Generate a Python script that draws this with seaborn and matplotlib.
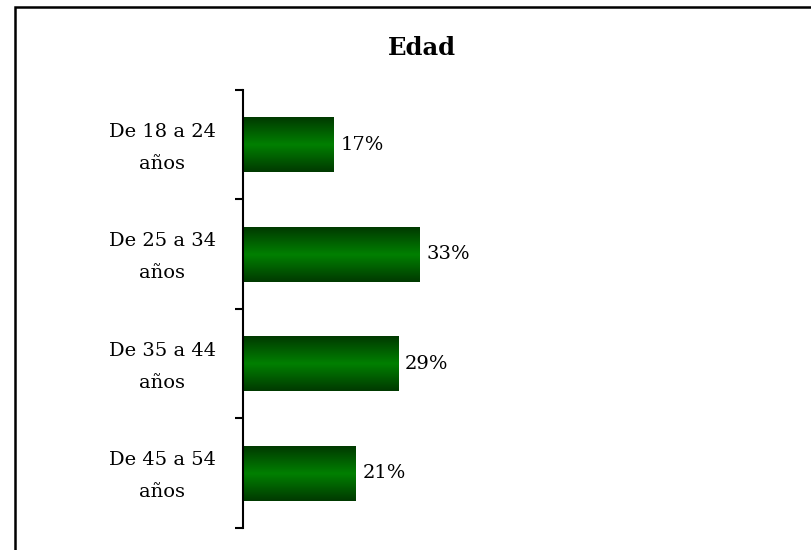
import numpy as np
import pandas as pd
import seaborn as sns
import matplotlib.pyplot as plt
from matplotlib.colors import LinearSegmentedColormap
from matplotlib.patches import Rectangle
from matplotlib.transforms import ScaledTranslation

# data
categorias = ["De 18 a 24\naños", "De 25 a 34\naños", "De 35 a 44\naños", "De 45 a 54\naños"]
porcentajes = [17, 33, 29, 21]
etiquetas = ["17%", "33%", "29%", "21%"]

df = pd.DataFrame({"edad": categorias, "pct": porcentajes})

sns.set_style("white")
plt.rcParams["font.family"] = ["DejaVu Serif"]

fig = plt.figure(figsize=(8.11, 5.5), dpi=100)
ax = fig.add_axes([0.2996, 0.04, 0.66, 0.7964])

sns.barplot(data=df, x="pct", y="edad", orient="h", width=0.5,
            color="#007a00", ax=ax)

# gradient fill for each bar (dark edges, bright middle)
cmap = LinearSegmentedColormap.from_list("verde", ["#003a00", "#008000", "#003a00"])
grad = np.linspace(0, 1, 64).reshape(-1, 1)
for p in ax.patches:
    x0, y0, w, h = p.get_x(), p.get_y(), p.get_width(), p.get_height()
    im = ax.imshow(grad, cmap=cmap, aspect="auto", extent=[x0, x0 + w, y0 + h, y0],
                   zorder=p.get_zorder() + 0.1, interpolation="bicubic")
    im.set_clip_path(p)
    p.set_facecolor("none")
    p.set_edgecolor("none")

ax.set_xlim(0, 100)
ax.set_ylim(3.5, -0.5)

# value labels
for i, (v, t) in enumerate(zip(porcentajes, etiquetas)):
    ax.text(v + 1.3, i, t, va="center", ha="left", fontsize=14, color="black")

# axes styling
sns.despine(ax=ax, left=False, bottom=True, right=True, top=True)
ax.spines["left"].set_linewidth(1.5)
ax.spines["left"].set_color("black")
ax.set_xticks([])
ax.set_xlabel("")
ax.set_ylabel("")
ax.set_yticks(range(len(categorias)))
ax.set_yticklabels(categorias, fontsize=14, ha="center", linespacing=2.0, color="black")
ax.tick_params(axis="y", which="major", left=False, length=0, pad=58)
ax.set_yticks([-0.5, 0.5, 1.5, 2.5, 3.5], minor=True)
ax.tick_params(axis="y", which="minor", left=True, length=6, width=1.5, color="black")

# nudge the two-line labels up a little
shift = ScaledTranslation(0, 0.06, fig.dpi_scale_trans)
for lab in ax.get_yticklabels():
    lab.set_transform(lab.get_transform() + shift)

fig.text(0.52, 0.913, "Edad", ha="center", va="center", fontsize=17.5,
         fontweight="bold", color="black")

# outer frame
fig.patches.append(Rectangle((15 / 811, -0.05), 1.0, 1 - 7 / 550 + 0.05,
                             transform=fig.transFigure, fill=False,
                             edgecolor="black", linewidth=1.8))

fig.savefig("out.png", dpi=100)
